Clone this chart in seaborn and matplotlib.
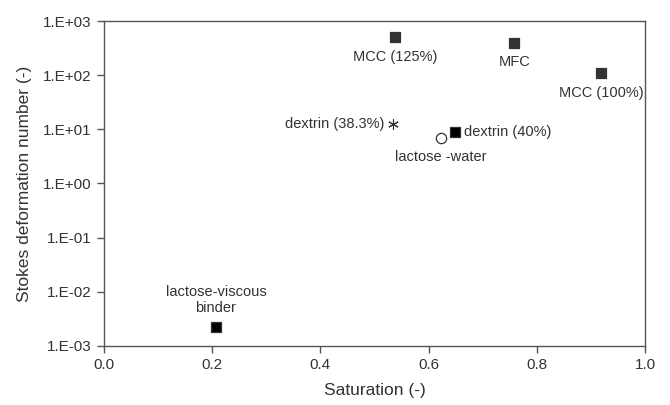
import matplotlib
matplotlib.use("Agg")
import matplotlib.pyplot as plt
import seaborn as sns
import pandas as pd
import numpy as np
from matplotlib.ticker import FixedLocator, FuncFormatter, NullLocator

labels = ["MCC (125%)", "MFC", "MCC (100%)", "dextrin (38.3%)", "lactose -water",
          "dextrin (40%)", "lactose-viscous\nbinder"]
saturation = [0.538, 0.758, 0.919, 0.534, 0.623, 0.649, 0.207]
stokes = [513, 398, 112, 12.4, 6.8, 9.1, 0.0022]
kind = ["sq_gray", "sq_gray", "sq_gray", "star", "circle", "sq_black", "sq_black"]
label_offsets = [(0, -20), (0, -19), (0, -20), (-9, 0), (0, -19), (9, 0), (0, 27)]
label_ha = ["center", "center", "center", "right", "center", "left", "center"]

df = pd.DataFrame({"label": labels, "x": saturation, "y": stokes, "kind": kind})

sns.set_theme(style="white")
plt.rcParams["font.family"] = ["Liberation Sans", "DejaVu Sans"]

fig = plt.figure(figsize=(6.7, 4.05), dpi=100)
ax = fig.add_axes([0.155, 0.146, 0.808, 0.802])

markers = {"sq_gray": "s", "sq_black": "s", "star": (6, 2, 0), "circle": "o"}
face = {"sq_gray": "#333333", "sq_black": "#000000", "star": "#333333", "circle": "white"}
sizes = {"sq_gray": 52, "sq_black": 52, "star": 50, "circle": 55}

for k, sub in df.groupby("kind"):
    sns.scatterplot(data=sub, x="x", y="y", ax=ax, marker=markers[k],
                    s=sizes[k],
                    color=face[k],
                    edgecolor="#333333" if k != "star" else None,
                    linewidth=0.9 if k != "star" else 0.8,
                    legend=False, zorder=3)

for lab, x, y, off, ha in zip(labels, saturation, stokes, label_offsets, label_ha):
    ax.annotate(lab, (x, y), xytext=off, textcoords="offset pixels",
                ha=ha, va="center", fontsize=10.5, color="#333333",
                linespacing=1.2)

ax.set_yscale("log")
ax.set_xlim(0, 1.0)
ax.set_ylim(1e-3, 1e3)
ax.xaxis.set_major_locator(FixedLocator(np.arange(0, 1.01, 0.2)))
ax.xaxis.set_major_formatter(FuncFormatter(lambda v, p: f"{v:.1f}"))
ax.yaxis.set_major_locator(FixedLocator([10.0**e for e in range(-3, 4)]))
ax.yaxis.set_minor_locator(NullLocator())
ax.yaxis.set_major_formatter(FuncFormatter(lambda v, p: f"1.E{int(round(np.log10(v))):+03d}"))

for sp in ax.spines.values():
    sp.set_color("#555555")
    sp.set_linewidth(1.0)
ax.tick_params(axis="both", which="major", direction="out", length=5, width=1,
               color="#555555", labelsize=11, labelcolor="#333333", pad=4)
ax.tick_params(left=True, bottom=True)

ax.set_xlabel("Saturation (-)", fontsize=12.5, color="#333333", labelpad=8)
ax.set_ylabel("Stokes deformation number (-)", fontsize=12.5, color="#333333", labelpad=8)

fig.savefig("out.png", dpi=100)
